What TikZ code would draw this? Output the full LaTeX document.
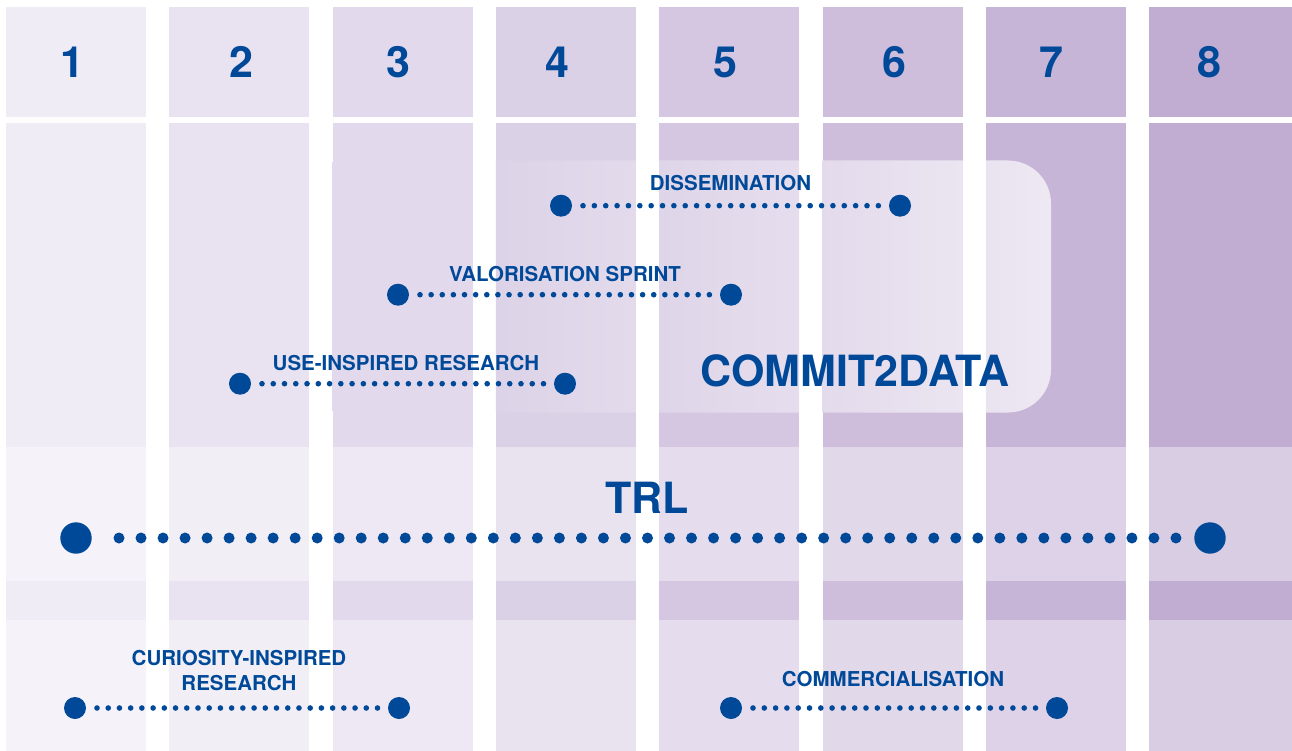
\documentclass[tikz,border=0pt]{standalone}
\usepackage{fontspec}
\setmainfont{TeX Gyre Heros}
\definecolor{cA}{HTML}{EFECF6}
\definecolor{cH}{HTML}{C1ACD2}
\definecolor{navy}{RGB}{0,73,153}
\colorlet{col1}{cA}
\colorlet{col2}{cH!14!cA}
\colorlet{col3}{cH!29!cA}
\colorlet{col4}{cH!43!cA}
\colorlet{col5}{cH!57!cA}
\colorlet{col6}{cH!71!cA}
\colorlet{col7}{cH!86!cA}
\colorlet{col8}{cH}
\begin{document}
\begin{tikzpicture}[x=1pt,y=-1pt,
  bigtxt/.style={text=navy, font=\fontsize{43}{48}\selectfont\bfseries, inner sep=0pt, anchor=base},
  lbl/.style={text=navy, font=\fontsize{20.5}{25}\selectfont\bfseries, inner sep=0pt, anchor=base, align=center},
  dotS/.style={circle, fill=navy, draw=none, inner sep=0pt, outer sep=0pt, minimum size=22pt},
  dotL/.style={circle, fill=navy, draw=none, inner sep=0pt, outer sep=0pt, minimum size=31.4pt},
  dotlineS/.style={navy, line width=5.6pt, line cap=round, dash pattern=on 0pt off #1, shorten <=11pt, shorten >=10pt},
  dotlineL/.style={navy, line width=11pt, line cap=round, dash pattern=on 0pt off 22.02pt, shorten <=27.3pt, shorten >=17.3pt}
]
\useasboundingbox (0,0) rectangle (1292,751);
\fill[white] (0,0) rectangle (1292,751);
% columns
\foreach \k in {1,...,8}{
  \pgfmathsetmacro\xl{6+163.3*(\k-1)}
  \pgfmathsetmacro\xr{\k==8 ? 1292 : \xl+140}
  \fill[col\k] (\xl,7) rectangle (\xr,117);
  \fill[col\k] (\xl,123) rectangle (\xr,751);
}
% light bands
\fill[white, fill opacity=0.4] (0,447) rectangle (1292,581);
\fill[white, fill opacity=0.4] (0,620) rectangle (1292,751);
% COMMIT2DATA box (fading white panel)
\begin{scope}
  \clip[rounded corners=43pt] (300,160.5) rectangle (1051,412.5);
  \foreach \k in {3,...,7}{
    \pgfmathsetmacro\xl{6+163.3*(\k-1)}
    \pgfmathsetmacro\xr{\xl+140}
    \pgfmathtruncatemacro\pa{max(0,(\xl-450)/600*70)}
    \pgfmathtruncatemacro\pb{max(0,(\xr-450)/600*70)}
    \shade[left color=white!\pa!col\k, right color=white!\pb!col\k] (\xl,160) rectangle (\xr,413);
  }
\end{scope}
% header numbers
\node[bigtxt] (n1) at (72,78) {1};
\node[bigtxt] (n2) at (241.5,78) {2};
\node[bigtxt] (n3) at (398.5,78) {3};
\node[bigtxt] (n4) at (557,78) {4};
\node[bigtxt] (n5) at (725.5,78) {5};
\node[bigtxt] (n6) at (894,78) {6};
\node[bigtxt] (n7) at (1051.5,78) {7};
\node[bigtxt] (n8) at (1209.5,78) {8};
% big titles
\node[bigtxt] (commit) at (855,386) {COMMIT2DATA};
\node[bigtxt] (trl) at (647,513) {TRL};
% labels
\node[lbl] (diss) at (730.5,191) {DISSEMINATION};
\node[lbl] (valo) at (565,281.5) {VALORISATION SPRINT};
\node[lbl] (use) at (406,370) {USE-INSPIRED RESEARCH};
\node[lbl, anchor=center] (curi) at (239,671) {CURIOSITY-INSPIRED\\RESEARCH};
\node[lbl] (comm) at (893,686.7) {COMMERCIALISATION};
% dots
\node[dotS] (d1a) at (561,205.7) {};
\node[dotS] (d1b) at (900,205.7) {};
\node[dotS] (d2a) at (398,294.7) {};
\node[dotS] (d2b) at (731,294.7) {};
\node[dotS] (d3a) at (240,383.7) {};
\node[dotS] (d3b) at (565,383.7) {};
\node[dotS] (d4a) at (75,708) {};
\node[dotS] (d4b) at (399,708) {};
\node[dotS] (d5a) at (731,708) {};
\node[dotS] (d5b) at (1057,708) {};
\node[dotL] (tA) at (76,538) {};
\node[dotL] (tB) at (1210,538) {};
% connectors
\draw[dotlineS=11.36pt] (d1a) -- (d1b);
\draw[dotlineS=11.13pt] (d2a) -- (d2b);
\draw[dotlineS=11.26pt] (d3a) -- (d3b);
\draw[dotlineS=11.22pt] (d4a) -- (d4b);
\draw[dotlineS=11.30pt] (d5a) -- (d5b);
\draw[dotlineL] (tA) -- (tB);
\end{tikzpicture}
\end{document}
